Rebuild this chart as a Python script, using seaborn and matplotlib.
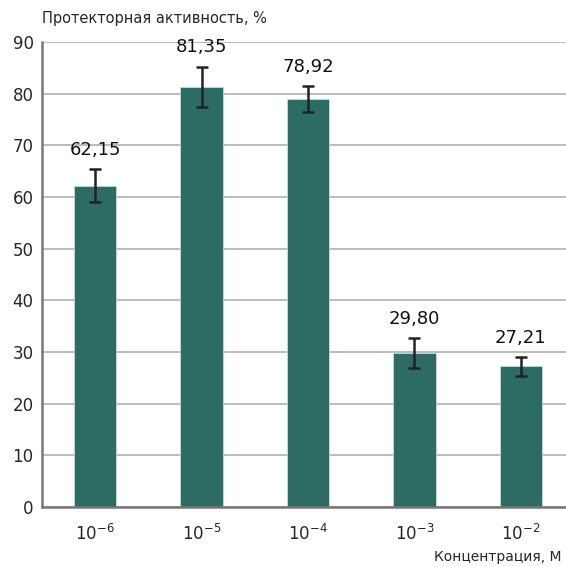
import matplotlib
matplotlib.use("Agg")
import matplotlib.pyplot as plt
import seaborn as sns
import pandas as pd
import numpy as np

categories = ["$10^{-6}$", "$10^{-5}$", "$10^{-4}$", "$10^{-3}$", "$10^{-2}$"]
values = [62.15, 81.35, 78.92, 29.80, 27.21]
errors = [3.2, 3.9, 2.5, 2.9, 1.8]
labels = ["62,15", "81,35", "78,92", "29,80", "27,21"]

sns.set_theme(style="white")
plt.rcParams['font.family'] = ['DejaVu Sans']
plt.rcParams['mathtext.default'] = 'regular'

df = pd.DataFrame({"cat": categories, "val": values})

fig = plt.figure(figsize=(5.66, 5.67), dpi=100)
ax = fig.add_axes([42/566, 1-507/567, 532/566, 465/567])
ax.set_ylim(0, 90)
ax.set_yticks(range(0, 91, 10))
ax.yaxis.grid(True, color="#b0b0b0", linewidth=1.2)
ax.set_axisbelow(True)

sns.barplot(data=df, x="cat", y="val", color="#2d6b65", saturation=1, width=0.4,
            ax=ax, zorder=2)
for p in ax.patches:
    p.set_edgecolor("#cfe3df")
    p.set_linewidth(0.5)
x = np.arange(len(values))
ax.errorbar(x, values, yerr=errors, fmt="none", ecolor="#222222", elinewidth=1.8,
            capsize=4, capthick=1.8, zorder=3)
for xi, v, e, lab in zip(x, values, errors, labels):
    ax.text(xi, v + e + 2.0, lab, ha="center", va="bottom", fontsize=13, color="#111111")

ax.set_xlim(-0.5, 4.5)
ax.set_xlabel("")
ax.set_ylabel("")
ax.set_xticks(x)
ax.set_xticklabels(categories, fontsize=12)
ax.tick_params(axis="x", length=0, pad=12)
ax.set_xticks(np.arange(0.5, 4.5, 1), minor=True)
ax.tick_params(axis="x", which="minor", length=4, width=1.5, color="#777777", direction="out")
ax.tick_params(axis="y", labelsize=12, length=4, width=1.5, color="#777777", direction="in", pad=6)
for s in ["top", "right"]:
    ax.spines[s].set_visible(False)
for s in ["left", "bottom"]:
    ax.spines[s].set_color("#777777")
    ax.spines[s].set_linewidth(1.8)

fig.text(42/566, 1-18/567, "Протекторная активность, %", fontsize=10.5, ha="left", va="center")
fig.text(562/566, 1-557/567, "Концентрация, М", fontsize=10, ha="right", va="center")

fig.savefig("out.png", dpi=100)
